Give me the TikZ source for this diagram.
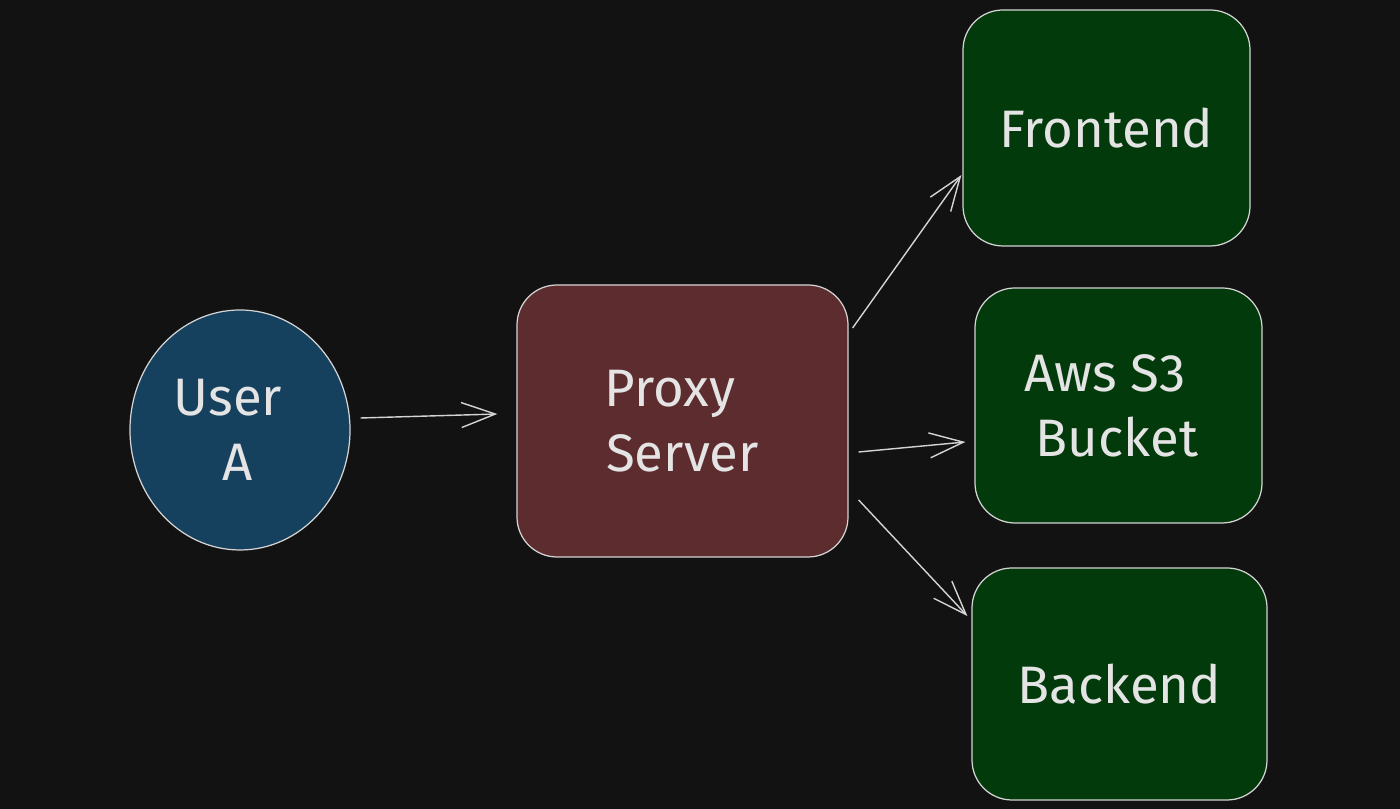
\documentclass[tikz,border=0pt]{standalone}
\usepackage{fontspec}
\setmainfont{Fira Sans}
\usetikzlibrary{shapes.geometric,arrows.meta}
\definecolor{bgdark}{HTML}{121212}
\definecolor{userblue}{HTML}{15405E}
\definecolor{proxyred}{HTML}{5D2C2E}
\definecolor{boxgreen}{HTML}{033A0B}
\definecolor{edgegrey}{HTML}{D4D4D4}
\definecolor{textgrey}{HTML}{E4E4E4}
\tikzset{
  label text/.style = {text=textgrey, font=\fontsize{15}{18.5}\selectfont, align=center},
  userbox/.style = {ellipse, draw=edgegrey, line width=0.35pt, fill=userblue,
    minimum width=2.2cm, minimum height=2.4cm, inner sep=0pt, label text},
  serverbox/.style = {rectangle, rounded corners=0.4cm, draw=edgegrey, line width=0.35pt,
    inner sep=0pt, label text},
  flow/.style = {draw=edgegrey, line width=0.4pt, -{Straight Barb[length=3.4mm,width=2.5mm]}}
}
\begin{document}
\begin{tikzpicture}

\fill[bgdark] (0,0) rectangle (14,8.09);
\useasboundingbox (0,0) rectangle (14,8.09);

\node[userbox] (user) at (2.40,3.79) {User\hspace*{0.24cm}\\A\hspace*{0.04cm}};
\node[serverbox, fill=proxyred, minimum width=3.31cm, minimum height=2.72cm] (proxy) at (6.825,3.88) {Proxy\hspace*{0.25cm}\\Server};
\node[serverbox, fill=boxgreen, minimum width=2.87cm, minimum height=2.36cm] (frontend) at (11.065,6.81) {Frontend};
\node[serverbox, fill=boxgreen, minimum width=2.87cm, minimum height=2.35cm] (bucket) at (11.185,4.035) {Aws S3\hspace*{0.27cm}\\Bucket\hspace*{0.03cm}};
\node[serverbox, fill=boxgreen, minimum width=2.95cm, minimum height=2.32cm] (backend) at (11.195,1.25) {Backend};

\draw[flow] ([xshift=0.1cm,yshift=0.12cm]user.east) -- ([xshift=-0.19cm,yshift=0.07cm]proxy.west);
\draw[flow] ([xshift=0.04cm,yshift=0.93cm]proxy.east) -- ([xshift=-0.01cm,yshift=-0.47cm]frontend.west);
\draw[flow] ([xshift=0.10cm,yshift=-0.31cm]proxy.east) -- ([xshift=-0.09cm,yshift=-0.365cm]bucket.west);
\draw[flow] ([xshift=0.10cm,yshift=-0.79cm]proxy.east) -- ([xshift=-0.04cm,yshift=0.68cm]backend.west);

\end{tikzpicture}
\end{document}
